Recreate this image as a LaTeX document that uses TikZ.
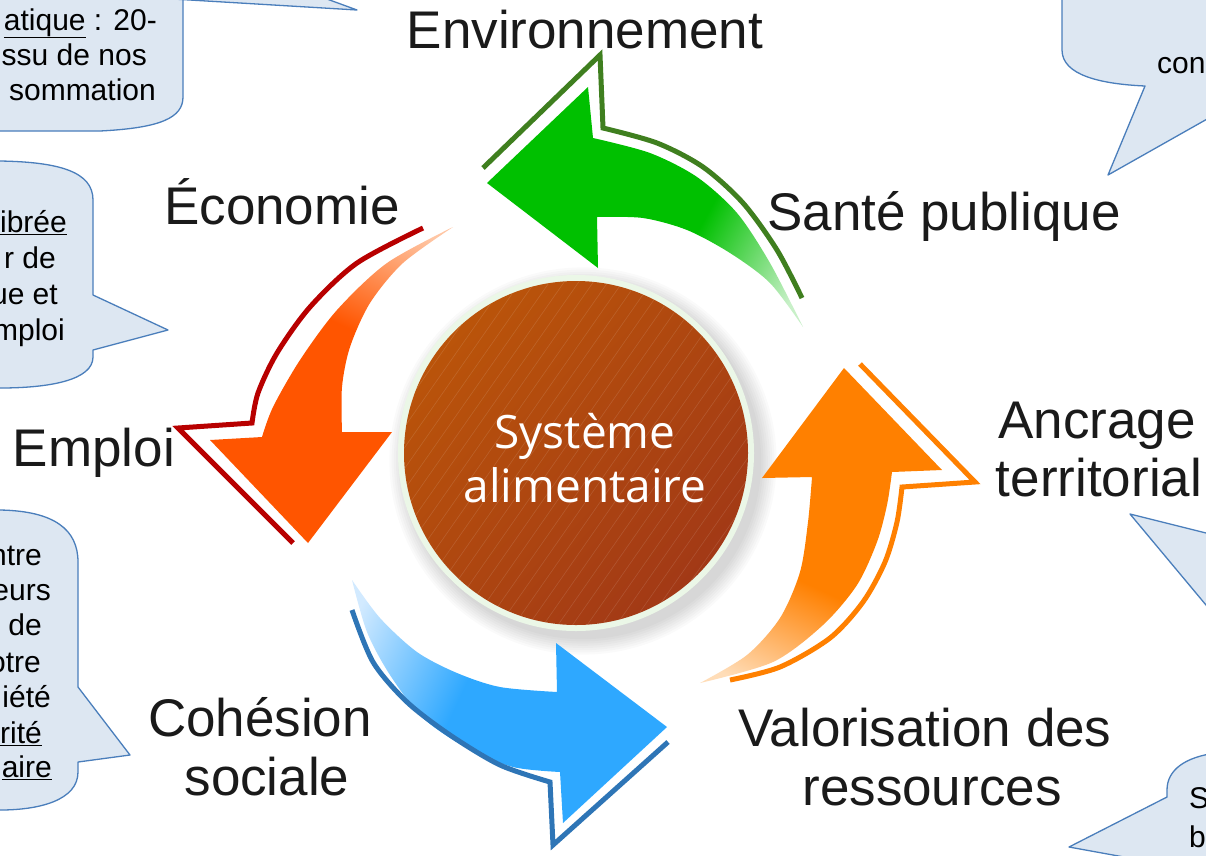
\documentclass[tikz,border=0pt]{standalone}
\usepackage{fontspec}
\setmainfont{Liberation Sans}
\newfontfamily\centerfont{Open Sans}
\definecolor{labelc}{HTML}{1A1A1A}
\definecolor{callfill}{HTML}{DDE7F2}
\definecolor{callline}{HTML}{4A7EBB}
\definecolor{gfill}{HTML}{00C000}
\definecolor{glight}{HTML}{C8F0C8}
\definecolor{rfill}{HTML}{FF5500}
\definecolor{rlight}{HTML}{FFC6A4}
\definecolor{ofill}{HTML}{FF8000}
\definecolor{olight}{HTML}{FFDDB8}
\definecolor{bfill}{HTML}{2EA8FF}
\definecolor{blight}{HTML}{D2EAFF}
\definecolor{gline}{HTML}{3F7F1F}
\definecolor{rline}{HTML}{B80000}
\definecolor{oline}{HTML}{FF8000}
\definecolor{bline}{HTML}{2E75B6}
\definecolor{circa}{HTML}{BA540A}
\definecolor{circb}{HTML}{A23916}
\definecolor{ringc}{HTML}{EBF7E7}
\pgfdeclarehorizontalshading{greenfade}{100bp}{color(0bp)=(gfill); color(60bp)=(gfill); color(80bp)=(glight); color(100bp)=(glight)}
\pgfdeclarehorizontalshading{redfade}{100bp}{color(0bp)=(rfill); color(60bp)=(rfill); color(80bp)=(rlight); color(100bp)=(rlight)}
\pgfdeclarehorizontalshading{orangefade}{100bp}{color(0bp)=(ofill); color(60bp)=(ofill); color(80bp)=(olight); color(100bp)=(olight)}
\pgfdeclarehorizontalshading{bluefade}{100bp}{color(0bp)=(bfill); color(58bp)=(bfill); color(80bp)=(blight); color(100bp)=(blight)}
\begin{document}
\begin{tikzpicture}[x=1pt,y=-1pt,
  lbl/.style={font=\fontsize{53}{58}\selectfont, text=labelc, inner sep=0pt, anchor=base},
  ctext/.style={font=\fontsize{30}{36}\selectfont, text=black, inner sep=0pt, anchor=base east},
  ctextw/.style={font=\fontsize{30}{36}\selectfont, text=black, inner sep=0pt, anchor=base west},
  callout/.style={fill=callfill, draw=callline, line width=1.3pt, line join=round},
  outl/.style={line width=5pt, line join=miter, line cap=butt},
  ctrtext/.style={font=\centerfont\fontsize{46}{54}\selectfont, text=white, inner sep=0pt, anchor=base}]
\useasboundingbox[fill=white] (0,0) rectangle (1206,855);

% ---- callouts ----
\path[callout] (-10,-10) -- (183,-10) -- (183,97) .. controls (183,118) and (160,128) .. (100,131) -- (-10,131) -- cycle;
\path[callout] (106,-5) -- (357,10) -- (316,-5) -- cycle;
\path[callout] (-10,161) -- (0,161) .. controls (60,162) and (93,172) .. (93,200) -- (93,295) -- (168,330) -- (93,350) -- (93,357) .. controls (93,380) and (50,388) .. (0,388) -- (-10,388) -- cycle;
\path[callout] (-10,510) -- (0,510) .. controls (55,511) and (78,530) .. (78,562) -- (78,687) -- (130,755) -- (78,762) -- (78,772) .. controls (78,800) and (40,810) .. (0,810) -- (-10,810) -- cycle;
\path[callout] (1062,-10) -- (1062,50) .. controls (1062,75) and (1100,84) .. (1145,86) -- (1108,175) -- (1216,114) -- (1216,-10) -- cycle;
\path[callout] (1216,535.5) -- (1130,514) -- (1216,617) -- cycle;
\path[callout] (1069,847) -- (1167,797) -- (1167,790) .. controls (1167,770) and (1185,757) .. (1216,753) -- (1216,865) -- (1168,865) -- cycle;

\node[ctext] (c1a) at (157,30) {\underline{atique} : 20-};
\node[ctext] (c1b) at (147,65) {ssu de nos};
\node[ctext] (c1c) at (156,100) {sommation};
\node[ctext] (c2a) at (67,232) {\underline{ibrée}};
\node[ctext] (c2b) at (56,268) {r de};
\node[ctext] (c2c) at (58,304) {ue et};
\node[ctext] (c2d) at (65,340) {mploi};
\node[ctext] (c3a) at (42,565) {ntre};
\node[ctext] (c3b) at (51,600) {eurs};
\node[ctext] (c3c) at (42,635) {de};
\node[ctext] (c3d) at (41,672) {otre};
\node[ctext] (c3e) at (51,707) {iété};
\node[ctext] (c3f) at (42,743) {\underline{rité}};
\node[ctext] (c3g) at (52,777) {\underline{aire}};
\node[ctextw] (c4a) at (1157,73) {con};
\node[ctextw] (c6a) at (1189,808) {S};
\node[ctextw] (c6b) at (1189,847) {b};

% ---- central circle ----
\foreach \i in {1,...,8}
  \fill[black, opacity=0.018] (583,461) circle ({176+\i*2.2});
\fill[ringc] (576,453) circle (178);
\node[circle, minimum size=344, inner sep=0pt, top color=circa, bottom color=circb, shading angle=45] (sys) at (576,453) {};
\begin{scope}
  \clip (576,453) circle (172);
  \foreach \k in {-30,...,30}
    \draw[white, opacity=0.12, line width=0.6pt] ({576+\k*14.6-172},{453+246}) -- ({576+\k*14.6+172},{453-246});
\end{scope}
\node[ctrtext] (sys1) at (585,448) {Système};
\node[ctrtext] (sys2) at (585,502) {alimentaire};

% ---- green arrow ----
\shade[shading=greenfade, shading angle=-29] (487,183) -- (588,87) -- (593,138) -- plot[smooth] coordinates {(593,138) (650,153) (697,177) (737,213) (770,263) (803,327)} -- plot[smooth] coordinates {(803,327) (770,283) (730,253) (687,230) (643,218) (597,217)} -- (598,268) -- cycle;
\draw[outl, gline] (483,168) -- (600,55) -- (603,128) -- plot[smooth] coordinates {(603,128) (657,143) (703,167) (743,203) (777,250) (802,298)};

% ---- red-orange arrow ----
\shade[shading=redfade, shading angle=65] (453,227) -- plot[smooth] coordinates {(453,227) (387,263) (337,310) (300,360) (273,407) (262,437)} -- (210,440) -- (308,543) -- (392,432) -- (342,432) -- plot[smooth] coordinates {(342,432) (342,387) (350,347) (370,303) (403,263) (453,227)} -- cycle;
\draw[outl, rline] plot[smooth] coordinates {(423,228) (357,263) (310,307) (277,353) (258,393) (252,423)} -- (178,428) -- (293,543);

% ---- orange arrow ----
\shade[shading=orangefade, shading angle=-115] (844,368) -- (942,470) -- (892,472) -- plot[smooth] coordinates {(892,472) (887,505) (877,542) (857,585) (823,625) (773,662) (700,683)} -- plot[smooth] coordinates {(700,683) (747,655) (780,618) (800,572) (808,522) (812,477)} -- (762,478) -- cycle;
\draw[outl, oline] (860,364) -- (975,482) -- (902,487) -- plot[smooth] coordinates {(902,487) (897,522) (885,562) (863,602) (830,638) (780,667) (730,680)};

% ---- blue arrow ----
\shade[shading=bluefade, shading angle=155] (352,580) -- plot[smooth] coordinates {(352,580) (380,618) (417,652) (457,673) (500,687) (557,692)} -- (556,643) -- (667,727) -- (563,823) -- (560,772) -- plot[smooth] coordinates {(560,772) (513,767) (467,748) (423,718) (390,675) (367,632) (352,580)} -- cycle;
\draw[outl, bline] plot[smooth] coordinates {(352,610) (373,662) (407,702) (450,735) (500,765) (550,782)} -- (553,845) -- (668,742);

% ---- labels ----
\node[lbl] (env) at (585,48) {Environnement};
\node[lbl] (sante) at (944,230) {Santé publique};
\node[lbl] (eco) at (282,224) {Économie};
\node[lbl] (emploi) at (94,466) {Emploi};
\node[lbl] (ancr1) at (1097,438) {Ancrage};
\node[lbl] (ancr2) at (1099,496) {territorial};
\node[lbl] (valo1) at (925,746) {Valorisation des};
\node[lbl] (valo2) at (932,805) {ressources};
\node[lbl] (cohe1) at (260,736) {Cohésion};
\node[lbl] (cohe2) at (267,795) {sociale};
\end{tikzpicture}
\end{document}
